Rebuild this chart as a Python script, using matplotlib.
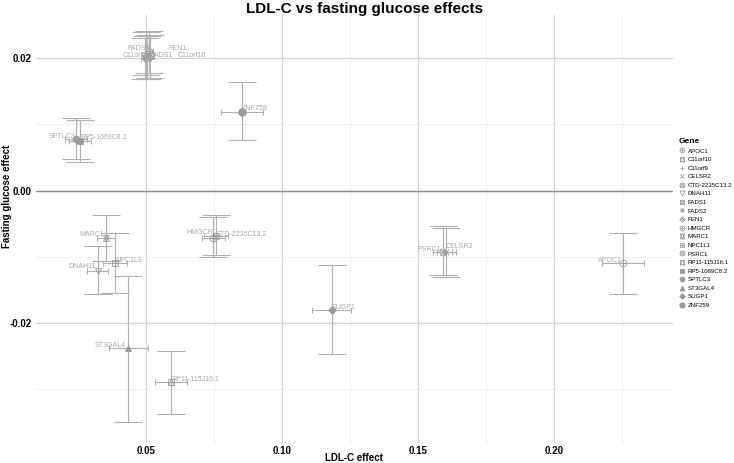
import matplotlib
matplotlib.use("Agg")
import matplotlib.pyplot as plt
from matplotlib.lines import Line2D

plt.rcParams['font.family'] = ['Liberation Sans', 'DejaVu Sans']

# gene-level effect estimates
genes = ['APOC1', 'C11orf10', 'C11orf9', 'CELSR2', 'CTD-2235C13.2', 'DNAH11',
         'FADS1', 'FADS2', 'FEN1', 'HMGCR', 'MARC1', 'NPC1L1', 'PSRC1',
         'RP11-115J16.1', 'RP5-1069C8.2', 'SPTLC3', 'ST3GAL4', 'SUGP1', 'ZNF259']
ldl_effect = [0.2253, 0.0513, 0.0498, 0.1603, 0.0757, 0.0322,
              0.0505, 0.0500, 0.0510, 0.0748, 0.0352, 0.0386, 0.1591,
              0.0591, 0.0257, 0.0242, 0.0435, 0.1183, 0.0853]
ldl_err = [0.0076, 0.0015, 0.0015, 0.0035, 0.0043, 0.0040,
           0.0015, 0.0015, 0.0015, 0.0043, 0.0033, 0.0044, 0.0035,
           0.0058, 0.0040, 0.0040, 0.0072, 0.0072, 0.0077]
fg_effect = [-0.0109, 0.0203, 0.0198, -0.0092, -0.0069, -0.0121,
             0.0200, 0.0205, 0.0210, -0.0071, -0.0072, -0.0110, -0.0093,
             -0.0289, 0.0075, 0.0078, -0.0238, -0.0180, 0.0119]
fg_low = [-0.0156, 0.0170, 0.0168, -0.0131, -0.0097, -0.0156,
          0.0168, 0.0175, 0.0178, -0.0100, -0.0107, -0.0154, -0.0127,
          -0.0337, 0.0043, 0.0047, -0.0349, -0.0247, 0.0077]
fg_high = [-0.0064, 0.0235, 0.0230, -0.0056, -0.0037, -0.0083,
           0.0233, 0.0240, 0.0241, -0.0040, -0.0037, -0.0064, -0.0053,
           -0.0242, 0.0107, 0.0109, -0.0129, -0.0113, 0.0164]

# marker shapes (ggplot-like, overlays for compound shapes)
shapes = {
    'APOC1': [('o', False), ('+', False)],
    'C11orf10': [('s', False), ('^', False)],
    'C11orf9': [('+', False)],
    'CELSR2': [('x', False)],
    'CTD-2235C13.2': [('o', False), ('x', False)],
    'DNAH11': [('v', False)],
    'FADS1': [('s', False), ('x', False)],
    'FADS2': [('+', False), ('x', False)],
    'FEN1': [('D', False), ('+', False)],
    'HMGCR': [('o', False), ('+', False)],
    'MARC1': [('^', False), ('v', False)],
    'NPC1L1': [('s', False), ('+', False)],
    'PSRC1': [('o', False), ('x', False)],
    'RP11-115J16.1': [('s', False), ('^', False)],
    'RP5-1069C8.2': [('s', True)],
    'SPTLC3': [('o', True)],
    'ST3GAL4': [('^', True)],
    'SUGP1': [('D', True)],
    'ZNF259': [('o', True)],
}
# label placement: (dx, dy) in pixels from the point to the text edge/centre
label_pos = {
    'APOC1': (-1, 2.6, 'right'), 'C11orf10': (28.5, 0.5, 'left'), 'C11orf9': (1.5, 3.8, 'right'),
    'CELSR2': (0, 5, 'left'), 'CTD-2235C13.2': (0, 1.4, 'left'), 'DNAH11': (-2, 4, 'right'),
    'FADS1': (2.6, 2.5, 'left'), 'FADS2': (4, 6, 'right'), 'FEN1': (20, 3, 'left'),
    'HMGCR': (0, 5, 'right'), 'MARC1': (-2, 4, 'right'), 'NPC1L1': (0, 3.3, 'left'),
    'PSRC1': (-2, 3, 'right'), 'RP11-115J16.1': (1, 2.7, 'left'),
    'RP5-1069C8.2': (0, 3, 'left'), 'SPTLC3': (0, 2.6, 'right'),
    'ST3GAL4': (-3, 2.3, 'right'), 'SUGP1': (0, 2.7, 'left'), 'ZNF259': (0, 3, 'left'),
}

grey = '#9a9a9a'
bar_col = '#b0b0b0'
txt_col = '#a8a8a8'

fig = plt.figure(figsize=(7.34, 4.63), dpi=100)
ax = fig.add_axes([36 / 734, 20 / 463, 637 / 734, 428 / 463])

handles = []
for i, g in enumerate(genes):
    x, y = ldl_effect[i], fg_effect[i]
    ax.errorbar(x, y, yerr=[[y - fg_low[i]], [fg_high[i] - y]], fmt='none',
                ecolor=bar_col, elinewidth=0.8, capsize=10, capthick=0.8, zorder=3)
    ax.errorbar(x, y, xerr=ldl_err[i], fmt='none', ecolor=bar_col,
                elinewidth=0.8, capsize=2, capthick=0.8, zorder=3)
    parts = []
    for m, filled in shapes[g]:
        ms = 5.5 if g == 'ZNF259' else (4 if m == 'D' else 5)
        kw = dict(marker=m, linestyle='none', markeredgewidth=0.6,
                  markeredgecolor=grey,
                  markerfacecolor=grey if filled else 'none')
        ax.plot([x], [y], markersize=ms, zorder=4, **kw)
        parts.append(Line2D([], [], markersize=ms * 0.7, **kw))
    handles.append(tuple(parts))
    dx, dy, ha = label_pos[g]
    ax.annotate(g, (x, y), xytext=(dx, dy), textcoords='offset pixels',
                ha=ha, va='center', fontsize=5, color=txt_col, zorder=5)

ax.set_xlim(0.00956, 0.2437)
ax.set_ylim(-0.0381, 0.0265)
ax.set_xticks([0.05, 0.10, 0.15, 0.20])
ax.set_xticklabels(['0.05', '0.10', '0.15', '0.20'], fontweight='bold', fontsize=7)
ax.set_yticks([-0.02, 0.0, 0.02])
ax.set_yticklabels(['-0.02', '0.00', '0.02'], fontweight='bold', fontsize=7)
ax.set_xticks([0.075, 0.125, 0.175, 0.225], minor=True)
ax.set_yticks([-0.03, -0.01, 0.01], minor=True)
ax.tick_params(which='both', length=0, pad=2)
ax.tick_params(axis='y', pad=3)
ax.grid(which='major', color='#d2d2d2', linewidth=0.9, zorder=0)
ax.grid(which='minor', color='#f0f0f0', linewidth=0.7, zorder=0)
ax.axhline(0, color='#8c8c8c', linewidth=1.0, zorder=1)
for s in ax.spines.values():
    s.set_visible(False)
ax.set_axisbelow(True)

fig.text(364 / 734, 1 - 8.5 / 463, 'LDL-C vs fasting glucose effects', ha='center',
         va='center', fontsize=11, fontweight='bold')
fig.text(354 / 734, 1 - 458 / 463, 'LDL-C effect', ha='center', va='center',
         fontsize=7, fontweight='bold')
fig.text(7.5 / 734, 1 - 196 / 463, 'Fasting glucose effect', ha='center', va='center',
         rotation=90, fontsize=7, fontweight='bold')

leg = fig.legend(handles, genes, loc='upper left', bbox_to_anchor=(679 / 734, 1 - 138 / 463),
                 fontsize=4.4, title='Gene', frameon=False, labelspacing=0.54,
                 handlelength=0.9, handletextpad=0.5, borderaxespad=0, borderpad=0)
leg.get_title().set_fontweight('bold')
leg.get_title().set_fontsize(6)
leg._legend_box.align = 'left'

fig.savefig('out.png', dpi=100)
